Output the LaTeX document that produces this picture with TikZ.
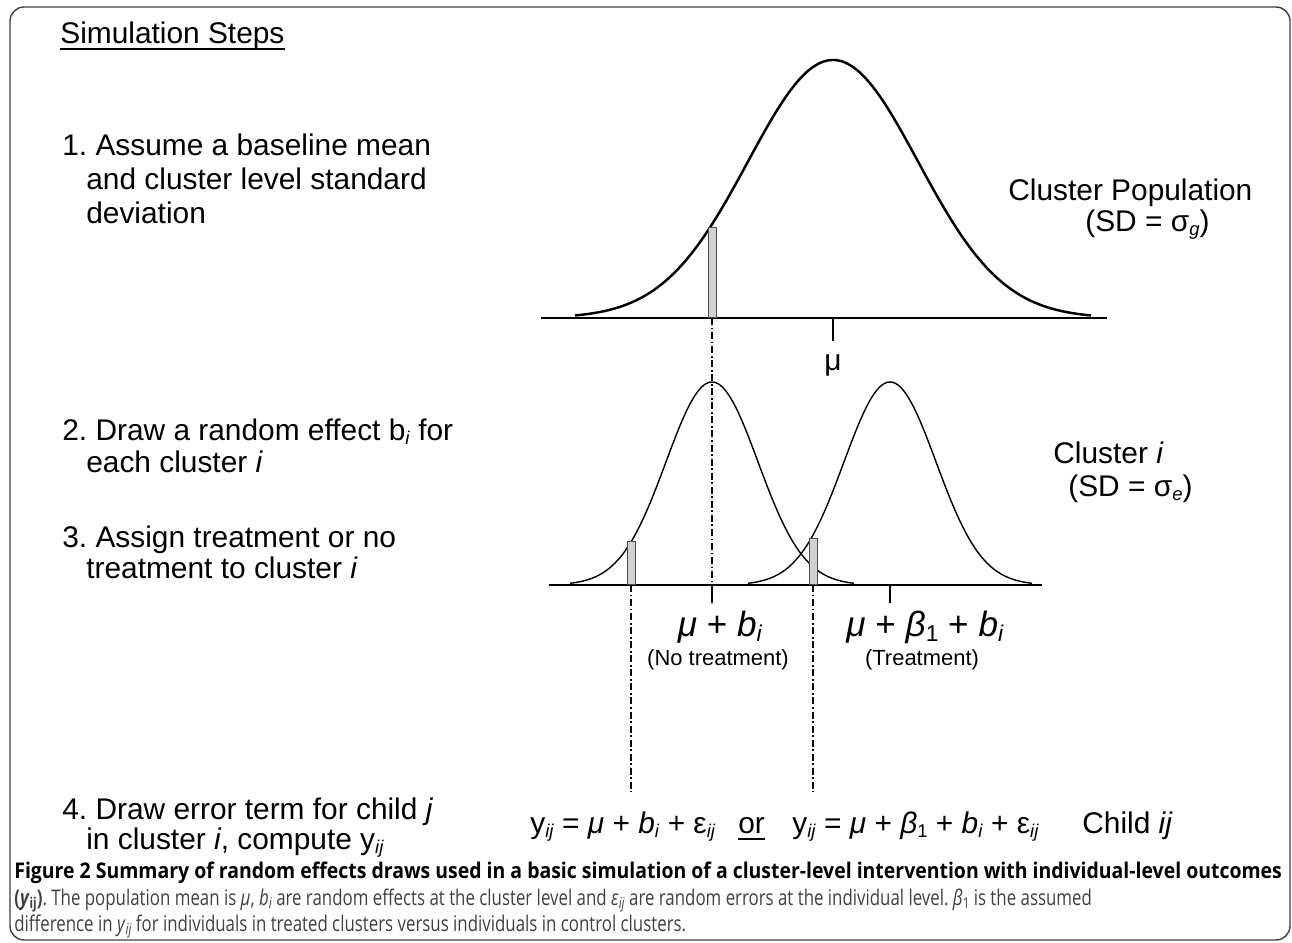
\documentclass[tikz,border=0pt]{standalone}
\usepackage{fontspec}
\setmainfont{Liberation Sans}
\newfontfamily\capfont[FakeStretch=0.78]{Open Sans}
\newfontfamily\capbold[FakeStretch=0.9]{Open Sans}
\usetikzlibrary{positioning}
\newcommand{\lowtx}[1]{\raisebox{-0.3ex}{\fontsize{10.5}{10.5}\selectfont #1}}
\newcommand{\lowbig}[1]{\raisebox{-0.3ex}{\fontsize{13}{13}\selectfont #1}}
\newcommand{\lowcap}[1]{\raisebox{-0.3ex}{\fontsize{8.5}{8.5}\selectfont #1}}
\frenchspacing

\begin{document}
\begin{tikzpicture}[x=0.02cm, y=-0.02cm,
    steptxt/.style={anchor=base west, inner sep=0pt, font=\fontsize{17}{20}\selectfont},
    lbl/.style={inner sep=0pt, font=\fontsize{17}{20}\selectfont},
    biglbl/.style={inner sep=0pt, anchor=base, font=\fontsize{20}{24}\selectfont},
    smalllbl/.style={inner sep=0pt, anchor=base, font=\fontsize{12.5}{15}\selectfont},
    capt/.style={anchor=base west, inner sep=0pt, font=\capfont\fontsize{12.3}{15}\selectfont},
    bigline/.style={line width=1.4pt},
    thinline/.style={line width=0.8pt},
    bar/.style={draw=black!70, fill=black!18, line width=0.4pt, minimum width=0.16cm, inner sep=0pt, anchor=south},
    ddot/.style={line width=0.8pt, dash pattern=on 4pt off 1.5pt on 1pt off 1.5pt}
  ]
  \useasboundingbox (0,0) rectangle (1292,943);
  \draw[black!75, line width=0.8pt, rounded corners=8pt] (10,7) rectangle (1290,940);

  \node[steptxt] (ttl) at (60,43) {Simulation Steps};
  \draw[line width=0.9pt] ([yshift=-3.5pt]ttl.base west) -- ([yshift=-3.5pt]ttl.base east);

  \node[steptxt] (s1a) at (62,155) {1. Assume a baseline mean};
  \node[steptxt] (s1b) at (86,189) {and cluster level standard};
  \node[steptxt] (s1c) at (86,223) {deviation};
  \node[steptxt] (s2a) at (62,440) {2. Draw a random effect b\lowtx{\textit{i}} for};
  \node[steptxt] (s2b) at (86,472) {each cluster \textit{i}};
  \node[steptxt] (s3a) at (62,547) {3. Assign treatment or no};
  \node[steptxt] (s3b) at (86,578) {treatment to cluster \textit{i}};
  \node[steptxt] (s4a) at (62,819) {4. Draw error term for child \textit{j}};
  \node[steptxt] (s4b) at (86,849) {in cluster \textit{i}, compute y\lowtx{\textit{ij}}};

  \draw[bigline] plot[domain=-258:258, samples=90, smooth] ({833+\x}, {318-258*exp(-0.5*(\x/85)^2)});
  \draw[bigline] (541,318) -- (1107,318);
  \draw[bigline] (833,318) -- (833,341);
  \node[lbl, anchor=base] (mu) at (833,370) {μ};
  \node[bar, minimum height=1.8cm] (bar0) at (712,318) {};
  \node[lbl, anchor=base west] (pop) at (1008,200) {Cluster Population};
  \node[lbl, anchor=base west] (sdg) at (1085,231) {(SD = σ\lowtx{\textit{g}})};

  \foreach \c in {712,890}
    \draw[thinline] plot[domain=-142:142, samples=70, smooth] ({\c+\x}, {585-203*exp(-0.5*(\x/46)^2)});
  \draw[thinline] (549,585) -- (1042,585);
  \coordinate (t1) at (712,585);
  \coordinate (t2) at (890,585);
  \draw[thinline] (t1) -- ++(0,18);
  \draw[thinline] (t2) -- ++(0,18);
  \node[bar, minimum height=0.86cm] (bar1) at (631,585) {};
  \node[bar, minimum height=0.92cm] (bar2) at (813,585) {};
  \coordinate (e1) at (631,792);
  \coordinate (e2) at (813,792);
  \draw[ddot] (bar0.south) -- (t1);
  \draw[ddot] (bar1.south) -- (e1);
  \draw[ddot] (bar2.south) -- (e2);

  \node[biglbl] (m1) at (720,636) {\textit{μ} + \textit{b}\lowbig{\textit{i}}};
  \node[smalllbl] (nt) at (718,665) {(No treatment)};
  \node[biglbl] (m2) at (925,636) {\textit{μ} + \textit{β}\lowbig{1} + \textit{b}\lowbig{\textit{i}}};
  \node[smalllbl] (tr) at (922,665) {(Treatment)};
  \node[lbl, anchor=base west] (cli) at (1053,463) {Cluster \textit{i}};
  \node[lbl, anchor=base west] (sde) at (1068,496) {(SD = σ\lowtx{\textit{e}})};

  \node[steptxt] (eq1) at (530,833) {y\lowtx{\textit{ij}} = \textit{μ} + \textit{b}\lowtx{\textit{i}} + ε\lowtx{\textit{ij}}};
  \node[steptxt] (or) at (738,833) {or};
  \draw[line width=0.9pt] ([yshift=-3.5pt]or.base west) -- ([yshift=-3.5pt]or.base east);
  \node[steptxt] (eq2) at (792,833) {y\lowtx{\textit{ij}} = \textit{μ} + \textit{β}\lowtx{1} + \textit{b}\lowtx{\textit{i}} + ε\lowtx{\textit{ij}}};
  \node[steptxt] (chd) at (1082,833) {Child \textit{ij}};

  \node[capt, font=\capbold\bfseries\fontsize{12.3}{15}\selectfont] (c1) at (14,878) {Figure 2 Summary of random effects draws used in a basic simulation of a cluster-level intervention with individual-level outcomes};
  \node[capt, text=black!75] (c2) at (14,905) {{\bfseries (\textit{y}\lowcap{ij})}. The population mean is \textit{μ}, \textit{b}\lowcap{\textit{i}} are random effects at the cluster level and \textit{ε}\lowcap{\textit{ij}} are random errors at the individual level. \textit{β}\lowcap{1} is the assumed};
  \node[capt, text=black!75] (c3) at (14,931) {difference in \textit{y}\lowcap{\textit{ij}} for individuals in treated clusters versus individuals in control clusters.};
\end{tikzpicture}
\end{document}
